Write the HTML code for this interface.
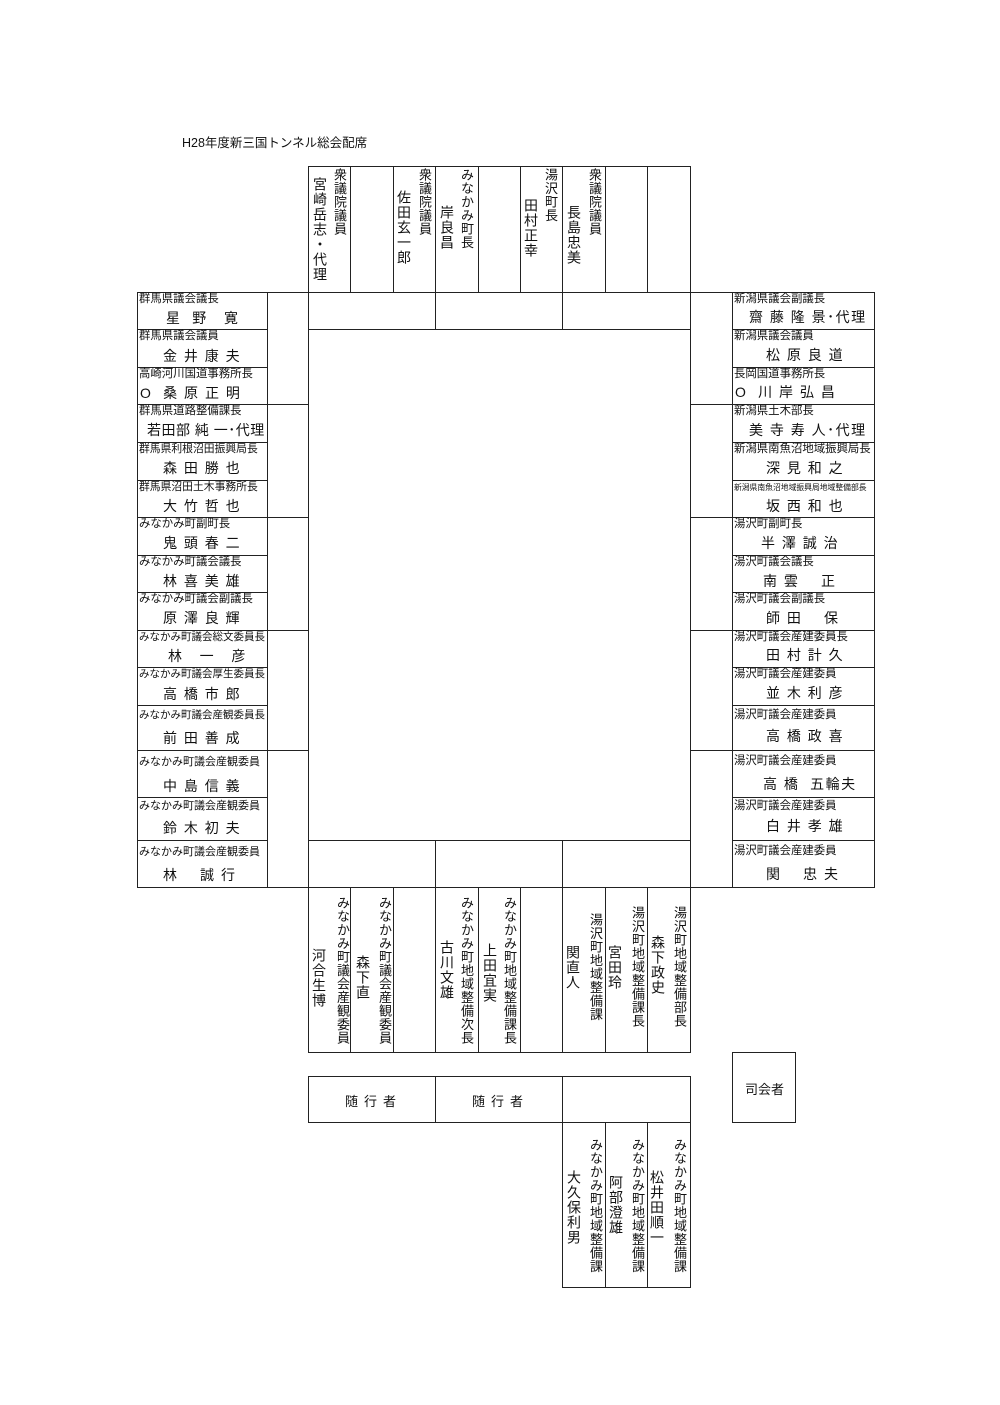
<!DOCTYPE html>
<html><head><meta charset="utf-8"><style>
body{margin:0;background:#fff;}
#p{position:relative;width:1000px;height:1405px;overflow:hidden;background:#fff;font-family:"Liberation Sans","Noto Sans CJK JP",sans-serif;color:#111;}
.b{position:absolute;border:1px solid #222;box-sizing:border-box;}
.t{position:absolute;font-size:11.4px;line-height:12px;white-space:nowrap;}
.n{position:absolute;font-size:14px;line-height:15px;white-space:pre;letter-spacing:1.5px;}
.v{position:absolute;writing-mode:vertical-rl;font-size:13px;line-height:14px;letter-spacing:0.5px;white-space:nowrap;}
.vn{position:absolute;writing-mode:vertical-rl;font-size:14px;line-height:15px;letter-spacing:1px;white-space:nowrap;}
</style></head><body><div id="p">
<div style="position:absolute;left:182px;top:132px;font-size:12.5px;">H28年度新三国トンネル総会配席</div>

<!-- top columns -->
<div class="b" style="left:308px;top:166px;width:383px;height:127px;"></div>
<div class="b" style="left:350px;top:166px;width:1px;height:126px;border-width:0 0 0 1px"></div>
<div class="b" style="left:393px;top:166px;width:1px;height:126px;border-width:0 0 0 1px"></div>
<div class="b" style="left:435px;top:166px;width:1px;height:126px;border-width:0 0 0 1px"></div>
<div class="b" style="left:478px;top:166px;width:1px;height:126px;border-width:0 0 0 1px"></div>
<div class="b" style="left:520px;top:166px;width:1px;height:126px;border-width:0 0 0 1px"></div>
<div class="b" style="left:562px;top:166px;width:1px;height:126px;border-width:0 0 0 1px"></div>
<div class="b" style="left:605px;top:166px;width:1px;height:126px;border-width:0 0 0 1px"></div>
<div class="b" style="left:647px;top:166px;width:1px;height:126px;border-width:0 0 0 1px"></div>
<div class="v" style="left:332px;top:168px;">衆議院議員</div>
<div class="vn" style="left:312px;top:177px;">宮崎岳志・代理</div>
<div class="v" style="left:417px;top:168px;">衆議院議員</div>
<div class="vn" style="left:396px;top:190px;">佐田玄一郎</div>
<div class="v" style="left:459px;top:168px;">みなかみ町長</div>
<div class="vn" style="left:439px;top:205px;">岸良昌</div>
<div class="v" style="left:543px;top:168px;">湯沢町長</div>
<div class="vn" style="left:523px;top:198px;">田村正幸</div>
<div class="v" style="left:587px;top:168px;">衆議院議員</div>
<div class="vn" style="left:566px;top:205px;">長島忠美</div>

<!-- top row / center / bottom row -->
<div class="b" style="left:308px;top:292px;width:383px;height:38px;"></div>
<div class="b" style="left:435px;top:292px;width:128px;height:38px;"></div>
<div class="b" style="left:308px;top:329px;width:383px;height:512px;"></div>
<div class="b" style="left:308px;top:840px;width:383px;height:48px;"></div>
<div class="b" style="left:435px;top:840px;width:128px;height:48px;"></div>

<!-- bottom columns -->
<div class="b" style="left:308px;top:887px;width:383px;height:166px;"></div>
<div class="b" style="left:350px;top:887px;width:1px;height:165px;border-width:0 0 0 1px"></div>
<div class="b" style="left:393px;top:887px;width:1px;height:165px;border-width:0 0 0 1px"></div>
<div class="b" style="left:435px;top:887px;width:1px;height:165px;border-width:0 0 0 1px"></div>
<div class="b" style="left:478px;top:887px;width:1px;height:165px;border-width:0 0 0 1px"></div>
<div class="b" style="left:520px;top:887px;width:1px;height:165px;border-width:0 0 0 1px"></div>
<div class="b" style="left:562px;top:887px;width:1px;height:165px;border-width:0 0 0 1px"></div>
<div class="b" style="left:605px;top:887px;width:1px;height:165px;border-width:0 0 0 1px"></div>
<div class="b" style="left:647px;top:887px;width:1px;height:165px;border-width:0 0 0 1px"></div>
<div class="v" style="left:335px;top:896px;">みなかみ町議会産観委員</div>
<div class="vn" style="left:311px;top:948px;">河合生博</div>
<div class="v" style="left:377px;top:896px;">みなかみ町議会産観委員</div>
<div class="vn" style="left:355px;top:955px;">森下直</div>
<div class="v" style="left:459px;top:896px;">みなかみ町地域整備次長</div>
<div class="vn" style="left:439px;top:940px;">古川文雄</div>
<div class="v" style="left:502px;top:896px;">みなかみ町地域整備課長</div>
<div class="vn" style="left:482px;top:943px;">上田宜実</div>
<div class="v" style="left:588px;top:913px;">湯沢町地域整備課</div>
<div class="vn" style="left:565px;top:945px;">関直人</div>
<div class="v" style="left:630px;top:906px;">湯沢町地域整備課長</div>
<div class="vn" style="left:607px;top:945px;">宮田玲</div>
<div class="v" style="left:672px;top:906px;">湯沢町地域整備部長</div>
<div class="vn" style="left:650px;top:935px;">森下政史</div>

<!-- attendants -->
<div class="b" style="left:308px;top:1076px;width:128px;height:47px;"></div>
<div class="b" style="left:435px;top:1076px;width:128px;height:47px;"></div>
<div class="b" style="left:562px;top:1076px;width:129px;height:47px;"></div>
<div style="position:absolute;left:345px;top:1091px;font-size:13px;letter-spacing:6px;">随行者</div>
<div style="position:absolute;left:472px;top:1091px;font-size:13px;letter-spacing:6px;">随行者</div>
<div class="b" style="left:562px;top:1122px;width:129px;height:166px;"></div>
<div class="b" style="left:605px;top:1122px;width:1px;height:165px;border-width:0 0 0 1px"></div>
<div class="b" style="left:647px;top:1122px;width:1px;height:165px;border-width:0 0 0 1px"></div>
<div class="v" style="left:588px;top:1138px;">みなかみ町地域整備課</div>
<div class="vn" style="left:566px;top:1170px;">大久保利男</div>
<div class="v" style="left:630px;top:1138px;">みなかみ町地域整備課</div>
<div class="vn" style="left:608px;top:1175px;">阿部澄雄</div>
<div class="v" style="left:672px;top:1138px;">みなかみ町地域整備課</div>
<div class="vn" style="left:649px;top:1170px;">松井田順一</div>
<div class="b" style="left:732px;top:1052px;width:64px;height:71px;"></div>
<div style="position:absolute;left:745px;top:1079px;font-size:13px;">司会者</div>

<!-- left seat column -->
<div class="b" style="left:267px;top:292px;width:42px;height:113px;"></div>
<div class="b" style="left:267px;top:404px;width:42px;height:114px;"></div>
<div class="b" style="left:267px;top:517px;width:42px;height:114px;"></div>
<div class="b" style="left:267px;top:630px;width:42px;height:121px;"></div>
<div class="b" style="left:267px;top:750px;width:42px;height:138px;"></div>
<!-- right seat column -->
<div class="b" style="left:690px;top:292px;width:43px;height:113px;"></div>
<div class="b" style="left:690px;top:404px;width:43px;height:114px;"></div>
<div class="b" style="left:690px;top:517px;width:43px;height:114px;"></div>
<div class="b" style="left:690px;top:630px;width:43px;height:121px;"></div>
<div class="b" style="left:690px;top:750px;width:43px;height:138px;"></div>

<!-- left names -->
<div class="b" style="left:137px;top:292px;width:131px;height:38px;"><span class="t" style="left:1px;top:0">群馬県議会議長</span><span class="n" style="left:28px;top:18px">星  野   寛</span></div>
<div class="b" style="left:137px;top:329px;width:131px;height:39px;"><span class="t" style="left:1px;top:0">群馬県議会議員</span><span class="n" style="left:25px;top:19px">金 井 康 夫</span></div>
<div class="b" style="left:137px;top:367px;width:131px;height:38px;"><span class="t" style="left:1px;top:0">高崎河川国道事務所長</span><span class="n" style="left:2px;top:18px">O  桑 原 正 明</span></div>
<div class="b" style="left:137px;top:404px;width:131px;height:39px;"><span class="t" style="left:1px;top:0">群馬県道路整備課長</span><span class="n" style="left:9px;top:18px;letter-spacing:0.5px">若田部 純 一･代理</span></div>
<div class="b" style="left:137px;top:442px;width:131px;height:39px;"><span class="t" style="left:1px;top:0;font-size:10.8px">群馬県利根沼田振興局長</span><span class="n" style="left:25px;top:18px">森 田 勝 也</span></div>
<div class="b" style="left:137px;top:480px;width:131px;height:38px;"><span class="t" style="left:1px;top:0;font-size:10.8px">群馬県沼田土木事務所長</span><span class="n" style="left:25px;top:18px">大 竹 哲 也</span></div>
<div class="b" style="left:137px;top:517px;width:131px;height:39px;"><span class="t" style="left:1px;top:0">みなかみ町副町長</span><span class="n" style="left:25px;top:18px">鬼 頭 春 二</span></div>
<div class="b" style="left:137px;top:555px;width:131px;height:38px;"><span class="t" style="left:1px;top:0">みなかみ町議会議長</span><span class="n" style="left:25px;top:18px">林 喜 美 雄</span></div>
<div class="b" style="left:137px;top:592px;width:131px;height:39px;"><span class="t" style="left:1px;top:0">みなかみ町議会副議長</span><span class="n" style="left:25px;top:18px">原 澤 良 輝</span></div>
<div class="b" style="left:137px;top:630px;width:131px;height:38px;"><span class="t" style="left:1px;top:0;font-size:10.5px">みなかみ町議会総文委員長</span><span class="n" style="left:30px;top:18px">林   一   彦</span></div>
<div class="b" style="left:137px;top:667px;width:131px;height:39px;"><span class="t" style="left:1px;top:0;font-size:10.5px">みなかみ町議会厚生委員長</span><span class="n" style="left:25px;top:19px">高 橋 市 郎</span></div>
<div class="b" style="left:137px;top:705px;width:131px;height:46px;"><span class="t" style="left:1px;top:3px;font-size:10.5px">みなかみ町議会産観委員長</span><span class="n" style="left:25px;top:25px">前 田 善 成</span></div>
<div class="b" style="left:137px;top:750px;width:131px;height:48px;"><span class="t" style="left:1px;top:5px;font-size:11px">みなかみ町議会産観委員</span><span class="n" style="left:25px;top:28px">中 島 信 義</span></div>
<div class="b" style="left:137px;top:797px;width:131px;height:44px;"><span class="t" style="left:1px;top:2px;font-size:11px">みなかみ町議会産観委員</span><span class="n" style="left:25px;top:23px">鈴 木 初 夫</span></div>
<div class="b" style="left:137px;top:840px;width:131px;height:48px;"><span class="t" style="left:1px;top:5px;font-size:11px">みなかみ町議会産観委員</span><span class="n" style="left:25px;top:27px">林    誠 行</span></div>

<!-- right names -->
<div class="b" style="left:732px;top:292px;width:143px;height:38px;"><span class="t" style="left:1px;top:0">新潟県議会副議長</span><span class="n" style="left:16px;top:17px;letter-spacing:1.5px">齋 藤 隆 景･代理</span></div>
<div class="b" style="left:732px;top:329px;width:143px;height:39px;"><span class="t" style="left:1px;top:0">新潟県議会議員</span><span class="n" style="left:33px;top:18px">松 原 良 道</span></div>
<div class="b" style="left:732px;top:367px;width:143px;height:38px;"><span class="t" style="left:1px;top:0">長岡国道事務所長</span><span class="n" style="left:2px;top:17px">O  川 岸 弘 昌</span></div>
<div class="b" style="left:732px;top:404px;width:143px;height:39px;"><span class="t" style="left:1px;top:0">新潟県土木部長</span><span class="n" style="left:16px;top:18px;letter-spacing:1.5px">美 寺 寿 人･代理</span></div>
<div class="b" style="left:732px;top:442px;width:143px;height:39px;"><span class="t" style="left:1px;top:0">新潟県南魚沼地域振興局長</span><span class="n" style="left:33px;top:18px">深 見 和 之</span></div>
<div class="b" style="left:732px;top:480px;width:143px;height:38px;"><span class="t" style="left:1px;top:1px;font-size:7.8px">新潟県南魚沼地域振興局地域整備部長</span><span class="n" style="left:33px;top:18px">坂 西 和 也</span></div>
<div class="b" style="left:732px;top:517px;width:143px;height:39px;"><span class="t" style="left:1px;top:0">湯沢町副町長</span><span class="n" style="left:28px;top:18px">半 澤 誠 治</span></div>
<div class="b" style="left:732px;top:555px;width:143px;height:38px;"><span class="t" style="left:1px;top:0">湯沢町議会議長</span><span class="n" style="left:30px;top:18px">南 雲    正</span></div>
<div class="b" style="left:732px;top:592px;width:143px;height:39px;"><span class="t" style="left:1px;top:0">湯沢町議会副議長</span><span class="n" style="left:33px;top:18px">師 田    保</span></div>
<div class="b" style="left:732px;top:630px;width:143px;height:38px;"><span class="t" style="left:1px;top:0">湯沢町議会産建委員長</span><span class="n" style="left:33px;top:17px">田 村 計 久</span></div>
<div class="b" style="left:732px;top:667px;width:143px;height:39px;"><span class="t" style="left:1px;top:0">湯沢町議会産建委員</span><span class="n" style="left:33px;top:18px">並 木 利 彦</span></div>
<div class="b" style="left:732px;top:705px;width:143px;height:46px;"><span class="t" style="left:1px;top:3px">湯沢町議会産建委員</span><span class="n" style="left:33px;top:23px">高 橋 政 喜</span></div>
<div class="b" style="left:732px;top:750px;width:143px;height:48px;"><span class="t" style="left:1px;top:4px">湯沢町議会産建委員</span><span class="n" style="left:30px;top:26px">高 橋  五輪夫</span></div>
<div class="b" style="left:732px;top:797px;width:143px;height:44px;"><span class="t" style="left:1px;top:2px">湯沢町議会産建委員</span><span class="n" style="left:33px;top:21px">白 井 孝 雄</span></div>
<div class="b" style="left:732px;top:840px;width:143px;height:48px;"><span class="t" style="left:1px;top:4px">湯沢町議会産建委員</span><span class="n" style="left:33px;top:26px">関    忠 夫</span></div>
</div></body></html>
